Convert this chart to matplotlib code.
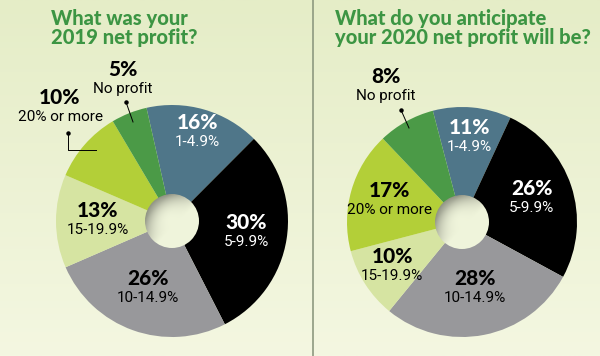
import numpy as np
import matplotlib.pyplot as plt
from matplotlib.patches import Circle
from matplotlib.colors import LinearSegmentedColormap

# --- data ---
categories = ["1-4.9%", "5-9.9%", "10-14.9%", "15-19.9%", "20% or more", "No profit"]
share_2019 = [16, 30, 26, 13, 10, 5]
share_2020 = [11, 26, 28, 10, 17, 8]
title_2019 = "What was your\n2019 net profit?"
title_2020 = "What do you anticipate\nyour 2020 net profit will be?"

colors = ["#4f7689", "#000000", "#98989b", "#d6e4a2", "#b3cf38", "#4b9a47"]
text_colors = ["white", "white", "black", "black", "black", "black"]

W, H = 600, 356
fig = plt.figure(figsize=(6, 3.56), dpi=100)
ax = fig.add_axes([0, 0, 1, 1])
ax.set_xlim(0, W)
ax.set_ylim(0, H)
ax.axis("off")

# background gradient
bg = LinearSegmentedColormap.from_list("bg", ["#f4f7e1", "#e5edc7"])
grad = np.linspace(0, 1, 256).reshape(-1, 1)
ax.imshow(grad, extent=[0, W, 0, H], origin="lower", cmap=bg, aspect="auto", zorder=0)

# divider
ax.plot([313, 313], [0, H], color="#8e9980", lw=1.2, zorder=1)

pct_font = dict(family=["Lato", "DejaVu Sans"], fontweight="black", fontsize=15)
sub_font = dict(family=["Liberation Sans Narrow", "Roboto", "DejaVu Sans"], fontsize=11)


def y_(y):
    return H - y


def draw_hole(cx, cy, r):
    n = 120
    u = np.linspace(-1, 1, n)
    U, V = np.meshgrid(u, u)
    rr = np.sqrt(U**2 + V**2)
    d = (-U + V) / np.sqrt(2)  # upper-left darker
    shade = 1 - 0.4 * np.clip(d + 0.2, 0, 1) * np.clip(rr, 0, 1) ** 2
    base = np.array([0.94, 0.96, 0.86])
    img = base[None, None, :] * shade[..., None]
    im = ax.imshow(img, extent=[cx - r, cx + r, cy - r, cy + r], origin="lower", zorder=4)
    im.set_clip_path(Circle((cx, cy), r, transform=ax.transData))


def draw_pie(values, cx, cy, radius, start, label_r, inside):
    wedges, _ = ax.pie(values, colors=colors, startangle=start, counterclock=False,
                       center=(cx, cy), radius=radius,
                       wedgeprops=dict(linewidth=0), frame=True)
    ax.set_xlim(0, W)
    ax.set_ylim(0, H)
    ax.axis("off")
    for w, v, cat, tc, lr, ins in zip(wedges, values, categories, text_colors, label_r, inside):
        w.set_zorder(3)
        if not ins:
            continue
        a = np.deg2rad((w.theta1 + w.theta2) / 2)
        x = cx + lr * radius * np.cos(a)
        y = cy + lr * radius * np.sin(a)
        ax.text(x, y + 1, f"{v}%", color=tc, ha="center", va="bottom", zorder=5, **pct_font)
        ax.text(x, y - 2, cat, color=tc, ha="center", va="top", zorder=5, **sub_font)
    draw_hole(cx, cy, 27)


# left pie
draw_pie(share_2019, 172, y_(221), 116, 102.7,
         [0.79, 0.65, 0.62, 0.64, 0, 0], [True, True, True, True, False, False])
# right pie
draw_pie(share_2020, 462, y_(222), 115, 104.7,
         [0.73, 0.64, 0.59, 0.72, 0.66, 0], [True, True, True, True, True, False])


# outside labels with leader lines
def outside(x, y, v, cat, line):
    ax.text(x, y_(y) + 1, f"{v}%", color="black", ha="center", va="bottom", zorder=5, **pct_font)
    ax.text(x, y_(y) - 2, cat, color="black", ha="center", va="top", zorder=5, **sub_font)
    xs, ys = zip(*line)
    ax.plot(xs, [y_(t) for t in ys], color="black", lw=0.7, zorder=6)
    ax.plot(xs[0], y_(ys[0]), "o", color="black", ms=2.2, zorder=6)


outside(123, 80, share_2019[5], categories[5], [(126, 102), (133, 122)])
outside(60, 108, share_2019[4], categories[4], [(68, 133), (68, 150), (96, 150)])
outside(386, 87, share_2020[5], categories[5], [(401, 110), (409, 128)])

title_font = dict(family=["Lato", "DejaVu Sans"], fontweight="black", fontsize=14.5,
                  color="#3c9543", linespacing=1.02)
ax.text(51, y_(9), title_2019, ha="left", va="top", zorder=5, **title_font)
ax.text(335, y_(9), title_2020, ha="left", va="top", zorder=5, **title_font)

fig.savefig("out.png", dpi=100)
